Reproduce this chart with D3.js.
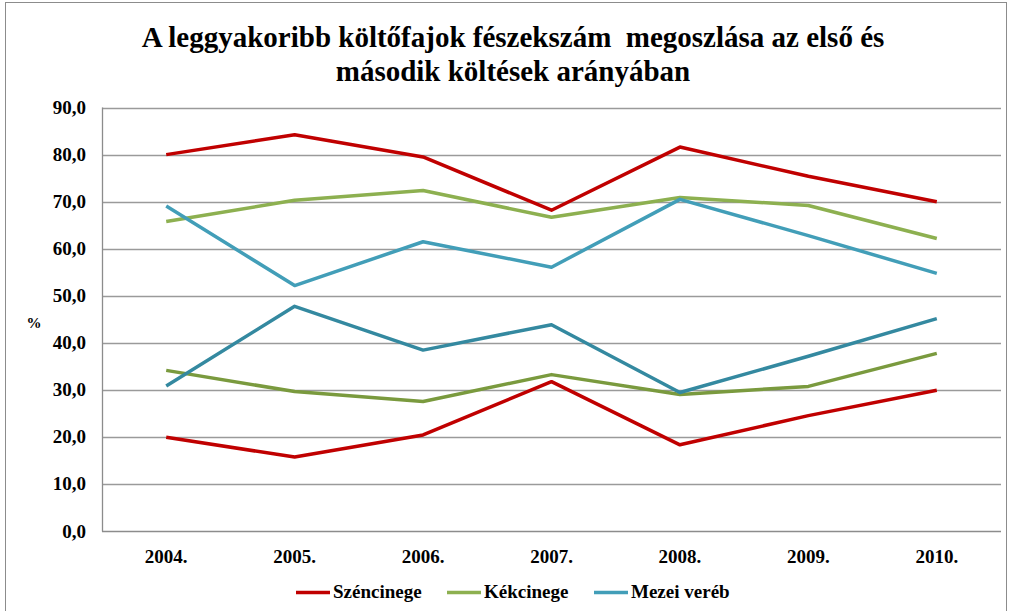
<!DOCTYPE html>
<html>
<head>
<meta charset="utf-8">
<script src="https://cdn.jsdelivr.net/npm/d3@7"></script>
<style>
  body { margin: 0; background: #fff; }
  svg text { font-family: 'Liberation Serif', 'DejaVu Serif', serif; font-weight: bold; fill: #000; }
</style>
</head>
<body>
<svg id="chart" width="1009" height="611"></svg>
<script>
// data
const years = ["2004.", "2005.", "2006.", "2007.", "2008.", "2009.", "2010."];
const yTicks = [0, 10, 20, 30, 40, 50, 60, 70, 80, 90];

// első költés (first brood)
const szenFirst  = [80.0, 84.2, 79.5, 68.2, 81.6, 75.4, 70.0];
const kekFirst   = [65.8, 70.3, 72.4, 66.7, 70.9, 69.2, 62.2];
const mezeiFirst = [69.1, 52.2, 61.5, 56.1, 70.5, 62.8, 54.8];
// második költés (second brood)
const szenSecond  = [20.0, 15.8, 20.5, 31.8, 18.4, 24.6, 30.0];
const kekSecond   = [34.2, 29.7, 27.6, 33.3, 29.1, 30.8, 37.8];
const mezeiSecond = [30.9, 47.8, 38.5, 43.9, 29.5, 37.2, 45.2];

const legendNames = ["Széncinege", "Kékcinege", "Mezei veréb"];

const series = [
  { values: szenFirst,   color: "#C00000" },
  { values: kekFirst,    color: "#8DB050" },
  { values: mezeiFirst,  color: "#429EB8" },
  { values: szenSecond,  color: "#C00000" },
  { values: kekSecond,   color: "#7A9A3E" },
  { values: mezeiSecond, color: "#3489A0" }
];
const legendColors = ["#C00000", "#8DB050", "#429EB8"];

const svg = d3.select("#chart");
const W = 1009, H = 611;
const plot = { left: 102, right: 1001, top: 107.5, bottom: 531.5 };
const FONT = "'Liberation Serif', 'DejaVu Serif', serif";

// outer frame
svg.append("rect")
  .attr("x", 5.5).attr("y", 2.5)
  .attr("width", W - 8).attr("height", H - 2)
  .attr("fill", "none").attr("stroke", "#8c8c8c").attr("stroke-width", 1);

const x = d3.scaleBand().domain(years).range([plot.left, plot.right]);
const y = d3.scaleLinear().domain([0, 90]).range([plot.bottom, plot.top]);

// gridlines
svg.append("g")
  .selectAll("line")
  .data(yTicks.filter(d => d > 0))
  .join("line")
    .attr("x1", plot.left).attr("x2", plot.right)
    .attr("y1", d => Math.round(y(d)) + 0.5).attr("y2", d => Math.round(y(d)) + 0.5)
    .attr("stroke", "#9a9a9a").attr("stroke-width", 1.3);

// axis lines
svg.append("line")
  .attr("x1", plot.left + 0.5).attr("x2", plot.left + 0.5)
  .attr("y1", plot.top).attr("y2", plot.bottom)
  .attr("stroke", "#8c8c8c").attr("stroke-width", 1.3);
svg.append("line")
  .attr("x1", plot.left).attr("x2", plot.right)
  .attr("y1", plot.bottom).attr("y2", plot.bottom)
  .attr("stroke", "#8c8c8c").attr("stroke-width", 1.5);

// y labels
svg.append("g")
  .selectAll("text")
  .data(yTicks)
  .join("text")
    .attr("x", 86)
    .attr("y", d => y(d) + 6)
    .attr("text-anchor", "end")
    .attr("font-family", FONT)
    .style("font-size", "19px")
    .text(d => d3.format(".1f")(d).replace(".", ","));

// x labels
svg.append("g")
  .selectAll("text")
  .data(years)
  .join("text")
    .attr("x", d => x(d) + x.bandwidth() / 2)
    .attr("y", 563)
    .attr("text-anchor", "middle")
    .attr("font-family", FONT)
    .style("font-size", "19px")
    .text(d => d);

// y axis title
svg.append("text")
  .attr("x", 34).attr("y", 328)
  .attr("text-anchor", "middle")
  .attr("font-family", FONT)
  .style("font-size", "15px")
  .text("%");

// lines
const line = d3.line()
  .x((d, i) => x(years[i]) + x.bandwidth() / 2)
  .y(d => y(d));

svg.append("g")
  .selectAll("path")
  .data(series)
  .join("path")
    .attr("d", d => line(d.values))
    .attr("fill", "none")
    .attr("stroke", d => d.color)
    .attr("stroke-width", 3.5)
    .attr("stroke-linejoin", "round");

// title
const title = svg.append("text")
  .attr("x", 513)
  .attr("text-anchor", "middle")
  .attr("font-family", FONT)
  .style("font-size", "29px")
  .style("white-space", "pre");
title.append("tspan").attr("x", 513).attr("y", 47)
  .text("A leggyakoribb költőfajok fészekszám  megoszlása az első és");
title.append("tspan").attr("x", 513).attr("y", 81)
  .text("második költések arányában");

// legend
const legendX = [296, 447, 594];
const legend = svg.append("g");
legendNames.forEach((name, i) => {
  legend.append("line")
    .attr("x1", legendX[i]).attr("x2", legendX[i] + 34)
    .attr("y1", 592.5).attr("y2", 592.5)
    .attr("stroke", legendColors[i]).attr("stroke-width", 3.5);
  legend.append("text")
    .attr("x", legendX[i] + 37).attr("y", 598)
    .attr("font-family", FONT)
    .style("font-size", "19px")
    .text(name);
});
</script>
</body>
</html>
